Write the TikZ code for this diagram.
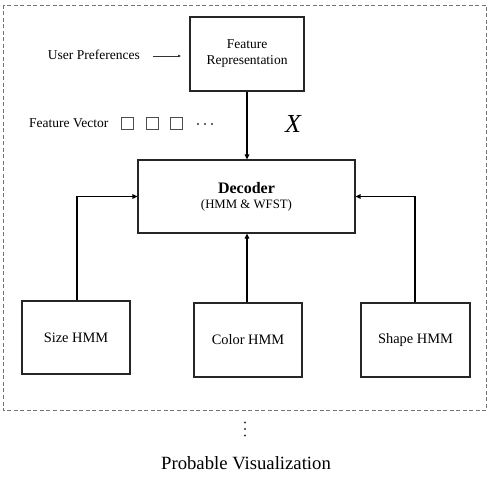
\documentclass[tikz,border=0pt]{standalone}
\usepackage{fontspec}
\setmainfont{Liberation Serif}
\usetikzlibrary{arrows.meta}
\begin{document}
\begin{tikzpicture}[x=1pt,y=-1pt,
  box/.style={draw=black!85,line width=1.2pt,inner sep=0pt},
  conn/.style={draw=black,line width=1.5pt},
  arr/.style={conn,-{Triangle[length=5pt,width=4.5pt]}},
  lbl/.style={font=\fontsize{13.5}{16}\selectfont,inner sep=0pt},
  hmm/.style={box,font=\fontsize{14.4}{16}\selectfont},
  sq/.style={draw=black!70,line width=0.6pt,minimum width=12pt,minimum height=12pt,inner sep=0pt},
  dot/.style={fill=black!80}]
\useasboundingbox (0,0) rectangle (490,478);
\draw[draw=black!55,line width=0.9pt,dash pattern=on 4pt off 2.5pt] (3,5) rectangle (486,410);
% top box
\node[box,minimum width=114pt,minimum height=74pt,align=center,lbl,draw] (fr) at (247,54) {Feature\\[0pt]Representation};
\node[lbl,anchor=east] (up) at (140,55) {User Preferences};
\coordinate (upa) at (153,56);
\coordinate (upb) at (181,56);
\draw[draw=black!80,line width=0.6pt,-{Triangle[length=3pt,width=2.5pt]}] (upa) -- (upb);
% feature vector
\node[lbl,anchor=east] (fv) at (108.5,123) {Feature Vector};
\node[sq] (s1) at (127,123) {};
\node[sq] (s2) at (152,123) {};
\node[sq] (s3) at (176,123) {};
\foreach \xx in {198,205,212} \fill[dot] (\xx,124) circle (1.1pt);
\node[font=\fontsize{26}{28}\selectfont\itshape,inner sep=0pt] (X) at (293,124) {X};
% decoder
\node[box,minimum width=217pt,minimum height=73pt,align=center] (dec) at (246.5,196.5) {{\fontsize{16}{18}\selectfont\bfseries Decoder}\\[3pt]{\fontsize{12.8}{15}\selectfont (HMM \& WFST)}};
% bottom boxes
\node[hmm,minimum width=108pt,minimum height=73pt] (size) at (76,337.5) {Size HMM};
\node[hmm,minimum width=108pt,minimum height=74pt] (color) at (248,340) {Color HMM};
\node[hmm,minimum width=109pt,minimum height=74pt] (shape) at (415.5,340) {Shape HMM};
% connectors
\draw[arr] (fr.south) -- (fr.south |- dec.north);
\draw[arr] (size.north -| 77,0) |- (dec.west);
\draw[arr] (color.north -| 247,0) -- (247,0 |- dec.south);
\draw[arr] (415,0 |- shape.north) |- (dec.east);
% bottom
\foreach \yy in {422.5,429,435.5} \fill[dot] (245,\yy) circle (1.2pt);
\node[font=\fontsize{18.7}{22}\selectfont,inner sep=0pt] (pv) at (246,463) {Probable Visualization};
\end{tikzpicture}
\end{document}
